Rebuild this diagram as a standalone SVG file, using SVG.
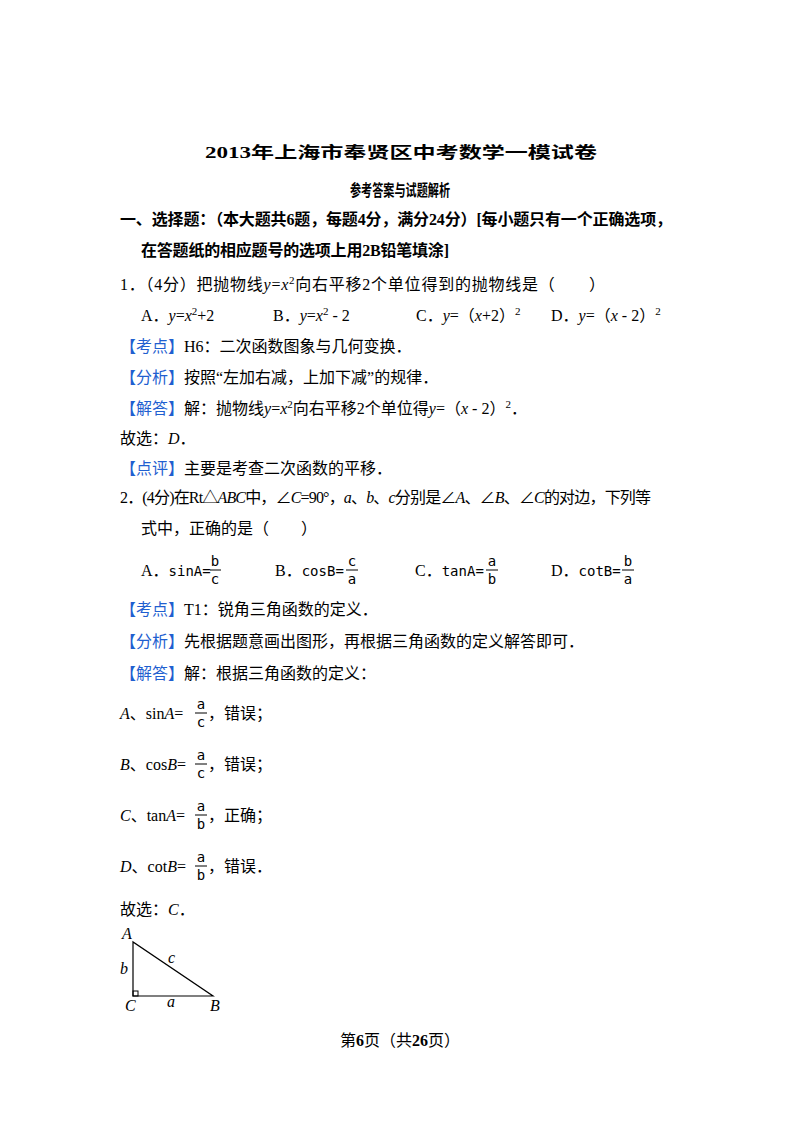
<svg xmlns="http://www.w3.org/2000/svg" width="800" height="1132" viewBox="0 0 800 1132">
<style>
text{font-family:"Liberation Serif","Noto Sans CJK SC",serif;font-size:16px;fill:#000}
.b{font-weight:bold}
.k{fill:#1f5fd0}
.i{font-style:italic}
.m{font-family:"DejaVu Sans Mono","Liberation Mono",monospace;font-size:14px}
.s{font-size:11px}
</style>
<rect width="800" height="1132" fill="#fff"/>
<g id="header">
<text x="205" y="158" class="b" font-size="25" textLength="392" lengthAdjust="spacingAndGlyphs">2013年上海市奉贤区中考数学一模试卷</text>
<text x="350" y="196" class="b" font-size="8" textLength="100" lengthAdjust="spacingAndGlyphs">参考答案与试题解析</text>
<text x="120" y="225" class="b" font-size="17" textLength="552">一、选择题：（本大题共6题，每题4分，满分24分）[每小题只有一个正确选项，</text>
<text x="141" y="256" class="b" font-size="17" textLength="308">在答题纸的相应题号的选项上用2B铅笔填涂]</text>
</g>
<g id="q1">
<text x="120" y="290" textLength="485">1．（4分）把抛物线<tspan class="i">y</tspan>=<tspan class="i">x</tspan><tspan class="s" dy="-6">2</tspan><tspan dy="6">向右平移2个单位得到的抛物线是（　　）</tspan></text>
<text x="141" y="321">A．<tspan class="i">y</tspan>=<tspan class="i">x</tspan><tspan class="s" dy="-6">2</tspan><tspan dy="6">+2</tspan></text>
<text x="273" y="321">B．<tspan class="i">y</tspan>=<tspan class="i">x</tspan><tspan class="s" dy="-6">2</tspan><tspan dy="6"> - 2</tspan></text>
<text x="416" y="321">C．<tspan class="i">y</tspan>=（<tspan class="i">x</tspan>+2）<tspan class="s" dy="-6">2</tspan></text>
<text x="551" y="321">D．<tspan class="i">y</tspan>=（<tspan class="i">x</tspan> - 2）<tspan class="s" dy="-6">2</tspan></text>
<text x="120" y="352"><tspan class="k">【考点】</tspan>H6：二次函数图象与几何变换．</text>
<text x="120" y="383"><tspan class="k">【分析】</tspan>按照“左加右减，上加下减”的规律．</text>
<text x="120" y="414"><tspan class="k">【解答】</tspan>解：抛物线<tspan class="i">y</tspan>=<tspan class="i">x</tspan><tspan class="s" dy="-6">2</tspan><tspan dy="6">向右平移2个单位得</tspan><tspan class="i">y</tspan>=（<tspan class="i">x</tspan> - 2）<tspan class="s" dy="-6">2</tspan><tspan dy="6">．</tspan></text>
<text x="120" y="444">故选：<tspan class="i">D</tspan>．</text>
<text x="120" y="474"><tspan class="k">【点评】</tspan>主要是考查二次函数的平移．</text>
</g>
<g id="q2">
<text x="120" y="503" textLength="531">2．(4分)在Rt△<tspan class="i">ABC</tspan>中，∠<tspan class="i">C</tspan>=90°，<tspan class="i">a</tspan>、<tspan class="i">b</tspan>、<tspan class="i">c</tspan>分别是∠<tspan class="i">A</tspan>、∠<tspan class="i">B</tspan>、∠<tspan class="i">C</tspan>的对边，下列等</text>
<text x="141" y="534">式中，正确的是（　　）</text>
<text x="141" y="576">A．<tspan class="m">sinA=</tspan></text>
<text x="215" y="566" class="m" text-anchor="middle">b</text><line x1="210" y1="570" x2="221" y2="570" stroke="#000"/><text x="215" y="584" class="m" text-anchor="middle">c</text>
<text x="275" y="576">B．<tspan class="m">cosB=</tspan></text>
<text x="352" y="566" class="m" text-anchor="middle">c</text><line x1="346" y1="570" x2="358" y2="570" stroke="#000"/><text x="352" y="584" class="m" text-anchor="middle">a</text>
<text x="415" y="576">C．<tspan class="m">tanA=</tspan></text>
<text x="492" y="566" class="m" text-anchor="middle">a</text><line x1="486" y1="570" x2="498" y2="570" stroke="#000"/><text x="492" y="584" class="m" text-anchor="middle">b</text>
<text x="551" y="576">D．<tspan class="m">cotB=</tspan></text>
<text x="628" y="566" class="m" text-anchor="middle">b</text><line x1="622" y1="570" x2="634" y2="570" stroke="#000"/><text x="628" y="584" class="m" text-anchor="middle">a</text>
<text x="120" y="615"><tspan class="k">【考点】</tspan>T1：锐角三角函数的定义．</text>
<text x="120" y="647"><tspan class="k">【分析】</tspan>先根据题意画出图形，再根据三角函数的定义解答即可．</text>
<text x="120" y="679"><tspan class="k">【解答】</tspan>解：根据三角函数的定义：</text>
<text x="120" y="719"><tspan class="i">A</tspan>、sin<tspan class="i">A</tspan>=</text>
<text x="201" y="709" class="m" text-anchor="middle">a</text><line x1="195" y1="713" x2="207" y2="713" stroke="#000"/><text x="201" y="727" class="m" text-anchor="middle">c</text>
<text x="208" y="719">，错误；</text>
<text x="120" y="770"><tspan class="i">B</tspan>、cos<tspan class="i">B</tspan>=</text>
<text x="201" y="760" class="m" text-anchor="middle">a</text><line x1="195" y1="764" x2="207" y2="764" stroke="#000"/><text x="201" y="778" class="m" text-anchor="middle">c</text>
<text x="208" y="770">，错误；</text>
<text x="120" y="821"><tspan class="i">C</tspan>、tan<tspan class="i">A</tspan>=</text>
<text x="201" y="811" class="m" text-anchor="middle">a</text><line x1="195" y1="815" x2="207" y2="815" stroke="#000"/><text x="201" y="829" class="m" text-anchor="middle">b</text>
<text x="208" y="821">，正确；</text>
<text x="120" y="872"><tspan class="i">D</tspan>、cot<tspan class="i">B</tspan>=</text>
<text x="201" y="862" class="m" text-anchor="middle">a</text><line x1="195" y1="866" x2="207" y2="866" stroke="#000"/><text x="201" y="880" class="m" text-anchor="middle">b</text>
<text x="208" y="872">，错误．</text>
<text x="120" y="915">故选：<tspan class="i">C</tspan>．</text>
</g>
<g id="triangle">
<polygon points="133,942 133,996 213,996" fill="none" stroke="#000" stroke-width="1.2"/>
<rect x="133" y="991" width="5" height="5" fill="none" stroke="#000"/>
<text x="122" y="939" class="i" font-size="13">A</text>
<text x="120" y="974" class="i" font-size="13">b</text>
<text x="168" y="963" class="i" font-size="13">c</text>
<text x="125" y="1011" class="i" font-size="13">C</text>
<text x="167" y="1007" class="i" font-size="13">a</text>
<text x="210" y="1011" class="i" font-size="13">B</text>
</g>
<g id="footer">
<text x="400" y="1046" font-size="11" text-anchor="middle">第<tspan class="b">6</tspan>页（共<tspan class="b">26</tspan>页）</text>
</g>
</svg>
